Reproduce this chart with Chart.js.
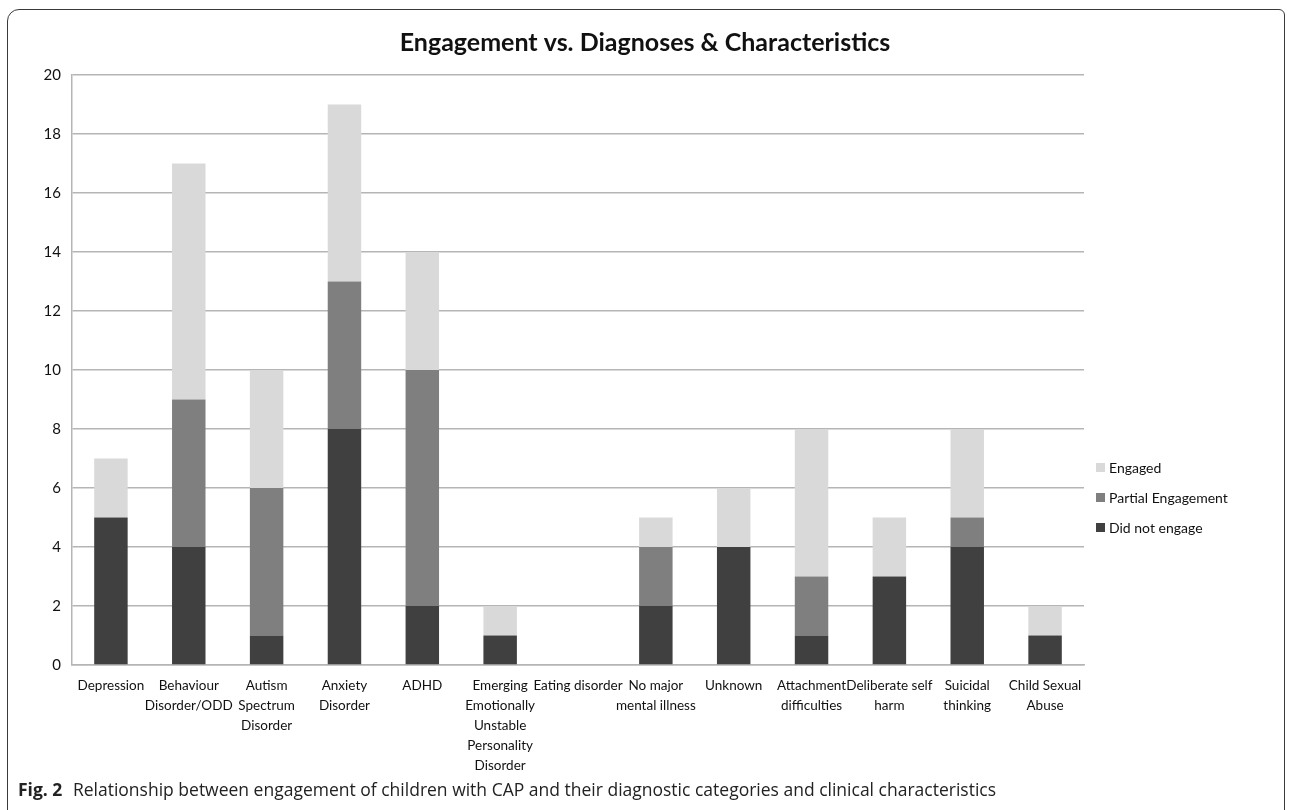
<!DOCTYPE html>
<html>
<head>
<meta charset="utf-8">
<script src="https://cdn.jsdelivr.net/npm/chart.js@4"></script>
<style>
  html, body { margin: 0; padding: 0; background: #fff; overflow: hidden; }
  #wrap { position: relative; width: 1290px; height: 810px; }
  #frame { position: absolute; left: 7px; top: 9px; width: 1278px; height: 900px;
           border: 1.5px solid #3a3a3a; border-radius: 12px 6px 0 0; box-sizing: border-box; }
  canvas { position: absolute; left: 0; top: 0; }
  #caption { position: absolute; left: 18px; top: 777px; font-family: 'Open Sans', 'Liberation Sans', sans-serif;
             font-size: 17.5px; color: #222; white-space: nowrap; }
  #caption b { font-weight: bold; margin-right: 6px; }
</style>
</head>
<body>
<div id="wrap">
  <div id="frame"></div>
  <canvas id="c" width="1290" height="810"></canvas>
  <div id="caption"><b>Fig. 2</b> Relationship between engagement of children with CAP and their diagnostic categories and clinical characteristics</div>
</div>
<script>
const categories = [
  ["Depression"],
  ["Behaviour", "Disorder/ODD"],
  ["Autism", "Spectrum", "Disorder"],
  ["Anxiety", "Disorder"],
  ["ADHD"],
  ["Emerging", "Emotionally", "Unstable", "Personality", "Disorder"],
  ["Eating disorder"],
  ["No major", "mental illness"],
  ["Unknown"],
  ["Attachment", "difficulties"],
  ["Deliberate self", "harm"],
  ["Suicidal", "thinking"],
  ["Child Sexual", "Abuse"]
];
const didNotEngage      = [5, 4, 1, 8, 2, 1, 0, 2, 4, 1, 3, 4, 1];
const partialEngagement = [0, 5, 5, 5, 8, 0, 0, 2, 0, 2, 0, 1, 0];
const engaged           = [2, 8, 4, 6, 4, 1, 0, 1, 2, 5, 2, 3, 1];
const yTicks = [0, 2, 4, 6, 8, 10, 12, 14, 16, 18, 20];

const FONT = "Lato, 'DejaVu Sans Condensed', sans-serif";

const legendPlugin = {
  id: 'sideLegend',
  afterDraw(chart) {
    const ctx = chart.ctx;
    const ds = chart.data.datasets.slice().reverse();
    const x = chart.chartArea.right + 12, y0 = 467, gap = 30;
    ctx.save();
    ctx.font = "14px " + FONT;
    ctx.textBaseline = 'middle';
    ds.forEach((d, i) => {
      const y = y0 + i * gap;
      ctx.fillStyle = d.backgroundColor;
      ctx.fillRect(x, y - 4, 9, 9);
      ctx.fillStyle = '#111';
      ctx.fillText(d.label, x + 13, y + 1);
    });
    ctx.restore();
  }
};

new Chart(document.getElementById('c'), {
  type: 'bar',
  data: {
    labels: categories,
    datasets: [
      { label: 'Did not engage', data: didNotEngage, backgroundColor: '#404040' },
      { label: 'Partial Engagement', data: partialEngagement, backgroundColor: '#7f7f7f' },
      { label: 'Engaged', data: engaged, backgroundColor: '#d9d9d9' }
    ]
  },
  options: {
    responsive: false,
    animation: false,
    devicePixelRatio: 1,
    layout: { padding: { left: 0, right: 0, top: 0, bottom: 30 } },
    datasets: { bar: { barPercentage: 0.86, categoryPercentage: 0.5 } },
    plugins: {
      legend: { display: false },
      tooltip: { enabled: false },
      title: {
        display: true,
        text: 'Engagement vs. Diagnoses & Characteristics',
        font: { family: FONT, size: 25, weight: 'bold' },
        color: '#111',
        padding: { top: 28, bottom: 17 }
      }
    },
    scales: {
      x: {
        stacked: true,
        grid: { display: false, drawTicks: false },
        border: { color: '#b5b5b5', width: 1.5 },
        ticks: { color: '#111', font: { family: FONT, size: 13.5, lineHeight: 1.48 }, maxRotation: 0, autoSkip: false, padding: 11 },
        afterFit(s) { s.height = 115; }
      },
      y: {
        stacked: true,
        min: 0, max: 20,
        afterBuildTicks(s) { s.ticks = yTicks.map(v => ({ value: v })); },
        grid: { color: '#b5b5b5', lineWidth: 1.5, drawTicks: false },
        border: { color: '#b5b5b5', width: 1.5 },
        ticks: { color: '#111', font: { family: FONT, size: 15 }, padding: 11 },
        afterFit(s) { s.width = 72; }
      },
      legendSpace: {
        type: 'linear',
        position: 'right',
        display: true,
        grid: { display: false, drawTicks: false },
        border: { display: false },
        ticks: { display: false },
        afterFit(s) { s.width = 206; }
      }
    }
  },
  plugins: [legendPlugin]
});
</script>
</body>
</html>
